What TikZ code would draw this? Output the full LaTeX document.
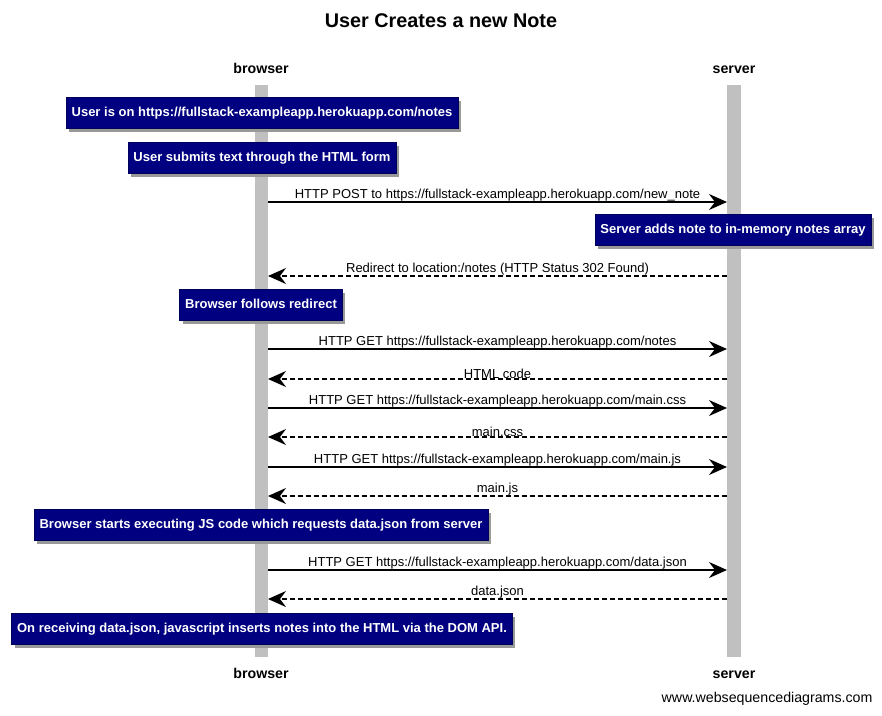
\documentclass[tikz,border=0pt]{standalone}
\usepackage{fontspec}
\setmainfont{Liberation Sans}
\usetikzlibrary{arrows.meta}
\usetikzlibrary{shadows}

\definecolor{notenavy}{RGB}{0,0,128}
\definecolor{lifegray}{RGB}{192,192,192}

\tikzset{
  actor/.style={anchor=base, font=\fontsize{14.2}{16}\selectfont\bfseries},
  lifeline/.style={fill=lifegray},
  note/.style={fill=notenavy, draw=notenavy!70!black, text=white,
    font=\fontsize{13}{15}\selectfont\bfseries, minimum height=31pt,
    text height=9.5pt, text depth=2.5pt,
    inner xsep=5.5pt, drop shadow={shadow xshift=3pt, shadow yshift=-3pt, fill=black!40, opacity=1}},
  msg/.style={->, line width=1.6pt},
  reply/.style={msg, dash pattern=on 5pt off 3pt},
  lbl/.style={above, inner sep=0pt, font=\fontsize{13}{15}\selectfont}
}

\begin{document}
\begin{tikzpicture}[x=1pt,y=-1pt,>={Stealth[length=18pt,width=16pt,inset=6pt]}]
    \useasboundingbox (0,0) rectangle (882,715);
    \node[font=\fontsize{19.8}{23}\selectfont\bfseries] (title) at (441,21) {User Creates a new Note};
    \node[actor] (browser)     at (261,73)  {browser};
    \node[actor] (server)      at (734,73)  {server};
    \node[actor] (browser_end) at (261,678) {browser};
    \node[actor] (server_end)  at (734,678) {server};
    \fill[lifeline] (255,85) rectangle (268,657);
    \fill[lifeline] (727,85) rectangle (741,657);

    % notes
    \node[note] (n_1) at (262,113) {User is on https://fullstack-exampleapp.herokuapp.com/notes};
    \node[note] (n_2) at (262,158) {User submits text through the HTML form};
    \node[note] (n_3) at (733,230) {Server adds note to in-memory notes array};
    \node[note] (n_4) at (261,305) {Browser follows redirect};
    \node[note] (n_5) at (261,525) {Browser starts executing JS code which requests data.json from server};
    \node[note] (n_6) at (262,629) {On receiving data.json, javascript inserts notes into the HTML via the DOM API.};

    % message ends
    \coordinate (b_1) at (268,202); \coordinate (s_1) at (727,202);
    \coordinate (b_2) at (268,276); \coordinate (s_2) at (727,276);
    \coordinate (b_3) at (268,349); \coordinate (s_3) at (727,349);
    \coordinate (b_4) at (268,379); \coordinate (s_4) at (727,379);
    \coordinate (b_5) at (268,408); \coordinate (s_5) at (727,408);
    \coordinate (b_6) at (268,437); \coordinate (s_6) at (727,437);
    \coordinate (b_7) at (268,467); \coordinate (s_7) at (727,467);
    \coordinate (b_8) at (268,496); \coordinate (s_8) at (727,496);
    \coordinate (b_9) at (268,570); \coordinate (s_9) at (727,570);
    \coordinate (b_10) at (268,599); \coordinate (s_10) at (727,599);

    \path (b_1) edge[msg]   node[lbl] {HTTP POST to https://fullstack-exampleapp.herokuapp.com/new\_note} (s_1)
          (s_2) edge[reply] node[lbl] {Redirect to location:/notes (HTTP Status 302 Found)} (b_2)
          (b_3) edge[msg]   node[lbl] {HTTP GET https://fullstack-exampleapp.herokuapp.com/notes} (s_3)
          (s_4) edge[reply] node[lbl] {HTML code} (b_4)
          (b_5) edge[msg]   node[lbl] {HTTP GET https://fullstack-exampleapp.herokuapp.com/main.css} (s_5)
          (s_6) edge[reply] node[lbl] {main.css} (b_6)
          (b_7) edge[msg]   node[lbl] {HTTP GET https://fullstack-exampleapp.herokuapp.com/main.js} (s_7)
          (s_8) edge[reply] node[lbl] {main.js} (b_8)
          (b_9) edge[msg]   node[lbl] {HTTP GET https://fullstack-exampleapp.herokuapp.com/data.json} (s_9)
          (s_10) edge[reply] node[lbl] {data.json} (b_10);

    \node[anchor=east, font=\fontsize{14.2}{16}\selectfont] (footer) at (876,699) {www.websequencediagrams.com};
\end{tikzpicture}
\end{document}
